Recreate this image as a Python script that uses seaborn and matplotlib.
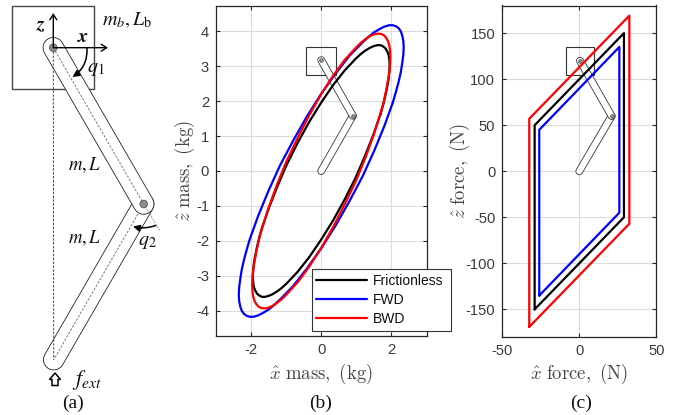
import numpy as np
import pandas as pd
import matplotlib
matplotlib.use('Agg')
import matplotlib.pyplot as plt
from matplotlib.patches import FancyArrowPatch, Polygon, Rectangle, Circle
import seaborn as sns

series_names = ['Frictionless', 'FWD', 'BWD']
series_colors = ['black', 'blue', 'red']

# mass ellipses
mass_x_frictionless = [1.69, 1.77, 1.83, 1.88, 1.92, 1.94, 1.95, 1.94, 1.92, 1.88, 1.83, 1.77, 1.69, 1.60, 1.49, 1.38, 1.25, 1.12, .98,
                       .67, .34, 0, -.34, -.67, -.98, -1.25, -1.49,
                       -1.69, -1.77, -1.83, -1.88, -1.92, -1.94, -1.95, -1.94, -1.92, -1.88, -1.83, -1.77, -1.69, -1.60, -1.49, -1.38, -1.25, -1.12, -.98,
                       -.67, -.34, 0, .34, .67, .98, 1.25, 1.49, 1.69]
mass_z_frictionless = [1.63, 1.91, 2.17, 2.41, 2.63, 2.84, 3.02, 3.18, 3.32, 3.42, 3.51, 3.56, 3.60, 3.60, 3.57, 3.52, 3.44, 3.34, 3.21,
                       2.88, 2.46, 1.96, 1.41, .81, .19, -.44, -1.05,
                       -1.63, -1.91, -2.17, -2.41, -2.63, -2.84, -3.02, -3.18, -3.32, -3.42, -3.51, -3.56, -3.60, -3.60, -3.57, -3.52, -3.44, -3.34, -3.21,
                       -2.88, -2.46, -1.96, -1.41, -.81, -.19, .44, 1.05, 1.63]
mass_x_fwd = [2.04, 2.13, 2.21, 2.27, 2.31, 2.34, 2.35, 2.34, 2.31, 2.27, 2.21, 2.13, 2.04, 1.93, 1.80, 1.66, 1.51, 1.35, 1.18,
              .80, .41, 0, -.41, -.80, -1.18, -1.51, -1.80,
              -2.04, -2.13, -2.21, -2.27, -2.31, -2.34, -2.35, -2.34, -2.31, -2.27, -2.21, -2.13, -2.04, -1.93, -1.80, -1.66, -1.51, -1.35, -1.18,
              -.80, -.41, 0, .41, .80, 1.18, 1.51, 1.80, 2.04]
mass_z_fwd = [1.96, 2.27, 2.57, 2.84, 3.10, 3.33, 3.54, 3.72, 3.87, 3.99, 4.08, 4.14, 4.17, 4.17, 4.13, 4.06, 3.97, 3.84, 3.68,
              3.29, 2.79, 2.21, 1.56, .87, .15, -.58, -1.29,
              -1.96, -2.27, -2.57, -2.84, -3.10, -3.33, -3.54, -3.72, -3.87, -3.99, -4.08, -4.14, -4.17, -4.17, -4.13, -4.06, -3.97, -3.84, -3.68,
              -3.29, -2.79, -2.21, -1.56, -.87, -.15, .58, 1.29, 1.96]
mass_x_bwd = [1.71, 1.79, 1.85, 1.90, 1.94, 1.96, 1.97, 1.96, 1.94, 1.90, 1.85, 1.79, 1.71, 1.61, 1.51, 1.39, 1.27, 1.13, .99,
              .67, .34, 0, -.34, -.67, -.99, -1.27, -1.51,
              -1.71, -1.79, -1.85, -1.90, -1.94, -1.96, -1.97, -1.96, -1.94, -1.90, -1.85, -1.79, -1.71, -1.61, -1.51, -1.39, -1.27, -1.13, -.99,
              -.67, -.34, 0, .34, .67, .99, 1.27, 1.51, 1.71]
mass_z_bwd = [1.72, 2.02, 2.31, 2.58, 2.83, 3.05, 3.26, 3.44, 3.59, 3.72, 3.81, 3.88, 3.92, 3.93, 3.91, 3.86, 3.78, 3.67, 3.53,
              3.18, 2.73, 2.20, 1.60, .95, .28, -.41, -1.08,
              -1.72, -2.02, -2.31, -2.58, -2.83, -3.05, -3.26, -3.44, -3.59, -3.72, -3.81, -3.88, -3.92, -3.93, -3.91, -3.86, -3.78, -3.67, -3.53,
              -3.18, -2.73, -2.20, -1.60, -.95, -.28, .41, 1.08, 1.72]

# force polygons
force_x_frictionless = [-29, -29, 29, 29, -29]
force_z_frictionless = [-150, 50, 150, -50, -150]
force_x_fwd = [-26, -26, 26, 26, -26]
force_z_fwd = [-135, 45, 135, -45, -135]
force_x_bwd = [-32.5, -32.5, 32.5, 32.5, -32.5]
force_z_bwd = [-169, 57, 169, -57, -169]

sns.set_theme(style='whitegrid')
plt.rcParams['font.family'] = ['Liberation Sans', 'DejaVu Sans']
plt.rcParams['mathtext.fontset'] = 'cm'
plt.rcParams['axes.unicode_minus'] = False

W, H = 681, 415
DARK = '#262626'
fig = plt.figure(figsize=(W / 100, H / 100), dpi=100, facecolor='white')


def axes_px(left, top, right, bottom):
    return fig.add_axes([left / W, 1 - bottom / H, (right - left) / W, (bottom - top) / H])


def long_table(xs, zs):
    rows = []
    for name, x, z in zip(series_names, xs, zs):
        rows.append(pd.DataFrame({'x': x, 'z': z, 'model': name}))
    return pd.concat(rows, ignore_index=True)


def style_axes(ax, xlim, ylim, xticks, yticks):
    ax.set_xlim(*xlim)
    ax.set_ylim(*ylim)
    ax.set_xticks(xticks)
    ax.set_yticks(yticks)
    ax.grid(True, color='#dcdcdc', lw=0.8)
    ax.set_axisbelow(True)
    ax.tick_params(direction='in', length=3, width=0.8, top=True, right=True, bottom=True, left=True,
                   labelsize=10.6, labelcolor='#3a3a3a', color=DARK, pad=5)
    for s in ax.spines.values():
        s.set_color(DARK)
        s.set_linewidth(0.9)


def draw_robot(ax, box, joints):
    # box = x0, z0, x1, z1; joints = hip, knee, foot
    ax.add_patch(Rectangle((box[0], box[1]), box[2] - box[0], box[3] - box[1], fill=False, ec='#333333', lw=0.8, zorder=1.2))
    hip, knee, foot = joints
    for a, b in [(knee, foot), (hip, knee)]:
        xs, zs = [a[0], b[0]], [a[1], b[1]]
        ax.plot(xs, zs, color='#333333', lw=5.6, solid_capstyle='round', zorder=1.3)
        ax.plot(xs, zs, color='white', lw=4.4, solid_capstyle='round', zorder=1.3)
    for p in (hip, knee):
        ax.plot(p[0], p[1], 'o', ms=2.6, mfc='#999999', mec='#333333', mew=0.5, zorder=1.4)


# panel (a), drawn in pixel coordinates
ax_a = fig.add_axes([0, 0, 1, 1])
ax_a.set_xlim(0, W)
ax_a.set_ylim(H, 0)
ax_a.axis('off')
hip_a, knee_a, foot_a = (53.3, 47.7), (143.7, 204), (53.7, 359.7)
ax_a.add_patch(Rectangle((11.7, 5.7), 82.6, 83, fill=False, ec='#444444', lw=1.0))
for a, b in [(knee_a, foot_a), (hip_a, knee_a)]:
    ax_a.plot([a[0], b[0]], [a[1], b[1]], color='#222222', lw=15.4, solid_capstyle='round')
    ax_a.plot([a[0], b[0]], [a[1], b[1]], color='white', lw=14.2, solid_capstyle='round')
    ax_a.plot([a[0], b[0]], [a[1], b[1]], color='#777777', lw=0.7, ls=(0, (2.5, 1.5)))
ax_a.plot([hip_a[0], foot_a[0]], [hip_a[1], foot_a[1]], color='#444444', lw=0.7, ls=(0, (2.5, 1.5)))
ax_a.plot([knee_a[0], 160], [knee_a[1], 231], color='#777777', lw=0.6, ls=(0, (2, 1.5)))
for p in (hip_a, knee_a):
    ax_a.add_patch(Circle(p, 3.8, fc='#8c8c8c', ec='#555555', lw=0.6, zorder=3))
for start, end in [(hip_a, (53.3, 13)), (hip_a, (108, 47.7))]:
    ax_a.add_patch(FancyArrowPatch(start, end, arrowstyle='->,head_length=4,head_width=2.5', color='black', lw=1.0,
                                   shrinkA=0, shrinkB=0, mutation_scale=1, zorder=4))
ax_a.add_patch(FancyArrowPatch((87, 48), (72.5, 77), connectionstyle='arc3,rad=-0.28', arrowstyle='-|>,head_length=4,head_width=2',
                               color='black', lw=1.1, shrinkA=0, shrinkB=0, mutation_scale=1, zorder=4))
ax_a.add_patch(FancyArrowPatch((155.7, 225.5), (133, 226.5), connectionstyle='arc3,rad=-0.15', arrowstyle='-|>,head_length=4,head_width=2',
                               color='black', lw=1.1, shrinkA=0, shrinkB=0, mutation_scale=1, zorder=4))
ax_a.add_patch(Polygon([(55, 373), (60.5, 379.5), (58, 379.5), (58, 385.5), (52, 385.5), (52, 379.5), (49.5, 379.5)],
                       fill=False, ec='black', lw=1.1))
diagram_text = [(41, 25, r'$\boldsymbol{z}$', 14.5), (83, 37, r'$\boldsymbol{x}$', 14.5), (96, 69, r'$q_1$', 14.5),
                (127, 20, r'$m_b,L_{\mathrm{b}}$', 14.5), (85, 165, r'$m,L$', 13.5), (85, 238, r'$m,L$', 13.5),
                (147, 241, r'$q_2$', 14.5), (87, 380, r'$f_{ext}$', 16)]
for x, y, s, size in diagram_text:
    ax_a.text(x, y, s, ha='center', va='center', fontsize=size, color='#111111', math_fontfamily='stix')
for x, s in [(73, '(a)'), (321, '(b)'), (581, '(c)')]:
    ax_a.text(x, 403, s, ha='center', va='center', fontsize=14, family='Liberation Serif', color='#111111')

# panel (b)
ax_b = axes_px(216, 6, 426.5, 336)
mass_df = long_table([mass_x_frictionless, mass_x_fwd, mass_x_bwd], [mass_z_frictionless, mass_z_fwd, mass_z_bwd])
sns.lineplot(data=mass_df, x='x', y='z', hue='model', hue_order=series_names, palette=series_colors, sort=False,
             estimator=None, errorbar=None, lw=1.6, zorder=2, ax=ax_b)
style_axes(ax_b, (-3, 3), (-4.72, 4.72), [-2, 0, 2], [-4, -3, -2, -1, 0, 1, 2, 3, 4])
draw_robot(ax_b, (-0.43, 2.74, 0.41, 3.56), [(0, 3.17), (0.9, 1.58), (0, 0)])
ax_b.set_xlabel(r'$\hat{x}\ \mathrm{mass,\ (kg)}$', fontsize=13.5, color='#444444')
ax_b.set_ylabel(r'$\hat{z}\ \mathrm{mass,\ (kg)}$', fontsize=13.5, color='#444444')
ax_b.xaxis.set_label_coords(0.5, -0.078)
ax_b.yaxis.set_label_coords(-0.09, 0.5)
handles, labels = ax_b.get_legend_handles_labels()
leg = ax_b.legend(handles, labels, loc='lower left', bbox_to_anchor=(311.7 / W, 1 - 330.7 / H, 139 / W, 62.4 / H),
                  bbox_transform=fig.transFigure, mode='expand', borderaxespad=0, fontsize=10, handlelength=3.65,
                  handletextpad=0.45, labelspacing=0.38, borderpad=0.32, frameon=True, fancybox=False, framealpha=1,
                  edgecolor='#333333', labelcolor='#111111')
leg.get_frame().set_linewidth(0.8)
leg.set_zorder(5)

# panel (c)
ax_c = axes_px(502.3, 5.5, 656.3, 337)
force_df = long_table([force_x_frictionless, force_x_fwd, force_x_bwd], [force_z_frictionless, force_z_fwd, force_z_bwd])
sns.lineplot(data=force_df, x='x', y='z', hue='model', hue_order=series_names, palette=series_colors, sort=False,
             estimator=None, errorbar=None, lw=1.6, zorder=2, legend=False, ax=ax_c)
style_axes(ax_c, (-50, 50), (-180, 180), [-50, 0, 50], [-150, -100, -50, 0, 50, 100, 150])
draw_robot(ax_c, (-8.8, 104, 9.7, 135.4), [(0.45, 120), (21, 60), (0, 0)])
ax_c.set_xlabel(r'$\hat{x}\ \mathrm{force,\ (N)}$', fontsize=13.5, color='#444444')
ax_c.set_ylabel(r'$\hat{z}\ \mathrm{force,\ (N)}$', fontsize=13.5, color='#444444')
ax_c.xaxis.set_label_coords(0.5, -0.076)
ax_c.yaxis.set_label_coords(-0.195, 0.5)

fig.savefig('out.png', dpi=100, facecolor='white')
